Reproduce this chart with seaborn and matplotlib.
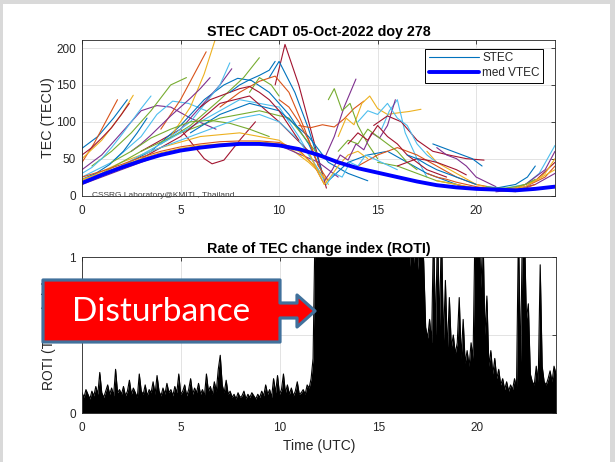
import numpy as np
import pandas as pd
import matplotlib
matplotlib.use("Agg")
import matplotlib.pyplot as plt
import seaborn as sns
from matplotlib.patches import Polygon, Rectangle
from matplotlib.lines import Line2D

# ---------------- data ----------------
VTEC_HOURS = [0, 1, 2, 3, 4, 5, 6, 7, 8, 9, 10, 11, 12, 13, 14, 15, 16, 17, 18, 19, 20, 21, 22, 23, 24]
VTEC_VALUES = [17, 28, 38, 47, 55, 61, 65, 68, 70, 70, 68, 63, 55, 45, 37, 31, 25, 19, 14, 11, 9, 8, 7, 9, 12]

STEC_ARCS = [
    ([0, 0.8, 1.6, 2.3], [64, 80, 105, 130]),
    ([0, 0.6, 1.2, 1.8], [45, 70, 100, 130]),
    ([0, 1, 2, 2.6], [50, 75, 110, 136]),
    ([0, 1, 2, 3, 3.8, 4.5, 5.5, 6.8], [35, 55, 85, 115, 122, 120, 105, 90]),
    ([0.5, 1.5, 2.5, 3.5, 4.5, 5.3], [40, 60, 85, 115, 150, 160]),
    ([0, 1.5, 3, 3.8, 4.6, 5.4, 6.3], [25, 45, 80, 110, 128, 125, 115]),
    ([3, 4, 5, 5.6, 6.2, 6.6, 7.2, 8, 8.8], [60, 75, 90, 70, 50, 43, 48, 75, 100]),
    ([2, 3.5, 5, 6.2, 7.2, 7.9, 8.6, 9.5, 10.5, 11.5, 12.2], [40, 60, 95, 130, 150, 159, 156, 140, 110, 70, 30]),
    ([4, 5, 5.8, 6.3], [90, 130, 170, 195]),
    ([4.5, 5.5, 6.2, 6.8], [80, 120, 165, 215]),
    ([5, 6, 7, 7.6], [90, 120, 150, 172]),
    ([4, 5.5, 7, 8.2, 9], [70, 95, 130, 160, 187]),
    ([4, 5.5, 7, 7.5], [70, 100, 150, 180]),
    ([9.8, 10.3, 11, 11.6, 12.1, 12.4], [150, 205, 150, 90, 40, 10]),
    ([9.5, 10, 10.8, 11.5, 12.2], [160, 182, 140, 90, 30]),
    ([7, 8, 9, 9.8, 10.5, 11.3, 12], [120, 140, 155, 162, 140, 90, 40]),
    ([0, 2, 4, 6, 8, 10, 11.5, 12.5], [20, 45, 65, 80, 85, 75, 45, 20]),
    ([0, 2, 4, 6, 8, 10, 12, 13], [15, 35, 55, 65, 70, 68, 45, 25]),
    ([1, 3, 5, 7, 9, 10.5, 12], [30, 60, 85, 105, 115, 105, 55]),
    ([2, 4, 6, 8, 10, 11, 12.3], [40, 70, 100, 130, 120, 80, 20]),
    ([3, 5, 7, 8.5, 10, 11.5], [50, 80, 125, 135, 100, 60]),
    ([5.5, 7, 8.5, 10, 11.5, 12.5, 13.5, 14.5], [85, 110, 125, 115, 80, 45, 30, 20]),
    ([11, 11.6, 12.2, 12.8, 13.3, 13.8, 14.3], [95, 92, 96, 93, 104, 118, 128]),
    ([13, 13.4, 13.8, 14.2, 14.6, 15, 15.5, 16, 16.6, 17.2], [80, 105, 96, 125, 135, 118, 110, 112, 114, 117]),
    ([12.3, 12.8, 13.3, 13.9], [50, 80, 120, 158]),
    ([12.5, 12.8, 13.2, 13.6, 14, 14.5, 15], [130, 145, 115, 125, 95, 70, 50]),
    ([15.2, 15.6, 16, 16.4, 17, 17.5], [90, 115, 130, 85, 50, 25]),
    ([14.8, 15.5, 16.2, 17, 17.8, 18.6, 19.5, 20.4], [95, 108, 100, 75, 60, 55, 50, 48]),
    ([12.5, 13.5, 14.5, 15.5, 16.5, 17.5, 18.5, 19.5], [20, 45, 55, 60, 45, 30, 20, 10]),
    ([14, 15, 16, 17, 18, 19, 20, 21, 22], [40, 55, 65, 55, 40, 25, 15, 10, 8]),
    ([17.5, 18, 19, 20, 21, 22], [60, 45, 30, 15, 8, 5]),
    ([18, 18.5, 19, 19.5, 20, 21], [65, 55, 50, 40, 25, 12]),
    ([15, 16, 17, 18, 19, 20], [45, 40, 30, 20, 15, 8]),
    ([20.5, 21.5, 22.5, 23.2, 24], [12, 10, 15, 30, 68]),
    ([21, 22, 23, 24], [8, 10, 20, 45]),
    ([20, 21, 22, 22.6, 23], [10, 10, 15, 25, 40]),
    ([21.5, 22.5, 23.5, 24], [8, 12, 25, 40]),
    ([22, 23, 24], [10, 20, 35]),
    ([21, 22, 23, 24], [5, 8, 15, 30]),
    ([8.5, 9, 9.6, 10], [140, 160, 150, 135]),
    ([0, 0.5, 1, 1.5, 2, 2.5, 3, 3.5], [30, 38, 50, 65, 82, 100, 118, 135]),
    ([0, 0.5, 1, 1.5, 2, 2.4], [55, 65, 78, 92, 110, 125]),
    ([0, 0.7, 1.4, 2.1, 2.8, 3.3], [22, 30, 42, 60, 85, 105]),
    ([0, 1, 2, 3, 4, 5, 6, 7, 8, 9, 10, 11, 11.8, 12.3], [25, 33, 42, 52, 60, 66, 70, 73, 74, 74, 72, 62, 40, 15]),
    ([0, 1, 2, 3, 4, 5, 6, 7, 8, 9, 10, 11, 12, 12.5], [22, 30, 40, 50, 58, 64, 68, 70, 72, 73, 70, 60, 35, 15]),
    ([2.5, 3, 3.5, 4, 4.5, 5, 5.5, 6, 6.5], [60, 70, 82, 95, 108, 120, 132, 145, 160]),
    ([1.5, 2.5, 3.5, 4.5, 5.5, 6.5, 7.5, 8.5, 9.5], [45, 60, 78, 90, 100, 102, 98, 90, 80]),
    ([3, 4, 5, 6, 7, 8, 9, 10, 11, 12], [55, 65, 75, 85, 95, 105, 110, 100, 75, 35]),
    ([6, 6.5, 7, 7.5, 8, 8.5, 9, 9.5, 10, 10.5, 11], [120, 130, 135, 140, 145, 148, 140, 130, 115, 95, 75]),
    ([7.5, 8, 8.5, 9, 9.5, 9.8], [140, 150, 157, 163, 170, 182]),
    ([10, 10.5, 11, 11.5, 12, 12.5], [130, 120, 100, 75, 40, 20]),
    ([11.5, 12, 12.3, 12.6, 13, 13.5, 14, 14.5], [60, 30, 15, 25, 40, 55, 60, 50]),
    ([12.3, 12.7, 13.1, 13.5, 13.9, 14.3, 14.7, 15.1, 15.5, 15.9], [20, 35, 55, 48, 70, 62, 85, 78, 95, 130]),
    ([13, 13.5, 14, 14.5, 15, 15.5, 16, 16.5, 17], [60, 75, 70, 90, 80, 70, 60, 45, 35]),
    ([14, 14.5, 15, 15.5, 16, 16.5, 17, 17.5, 18], [100, 115, 110, 125, 105, 95, 70, 55, 45]),
    ([16, 16.5, 17, 17.5, 18, 18.5, 19, 19.5], [40, 45, 50, 48, 45, 40, 35, 28]),
    ([17.8, 18.3, 18.8, 19.3, 19.8, 20.3], [70, 65, 60, 55, 50, 40]),
    ([19, 19.5, 20, 20.5, 21, 21.5, 22, 22.5, 23], [15, 12, 10, 8, 7, 6, 7, 10, 15]),
    ([18, 19, 20, 21, 22, 22.5, 23, 23.5, 24], [20, 15, 10, 8, 9, 12, 20, 30, 50]),
    ([22.5, 23, 23.5, 24], [15, 25, 35, 60]),
    ([20.5, 21, 21.5, 22, 22.5, 23], [12, 10, 10, 12, 15, 22]),
    ([12.4, 12.8, 13.2, 13.6, 14, 14.4, 14.8, 15.2, 15.6, 16], [15, 30, 25, 45, 40, 55, 50, 45, 40, 35]),
    ([13.5, 14, 14.5, 15, 15.5, 16, 16.5, 17, 17.5, 18.5], [70, 85, 75, 95, 80, 70, 55, 45, 35, 25]),
    ([16.5, 17, 17.5, 18, 18.5, 19, 19.5, 20], [55, 50, 42, 35, 30, 25, 20, 15]),
    ([17.5, 18, 18.5, 19, 19.5, 20, 20.5, 21], [30, 25, 22, 18, 15, 12, 10, 8]),
]

ROTI_STEP = 0.1
ROTI_VALUES = [
    0.13, 0.10, 0.15, 0.12, 0.09, 0.14, 0.11, 0.17, 0.12, 0.26, 0.13,
    0.10, 0.14, 0.18, 0.12, 0.16, 0.11, 0.28, 0.13, 0.15, 0.12,
    0.17, 0.11, 0.14, 0.21, 0.12, 0.16, 0.13, 0.10, 0.25, 0.14,
    0.12, 0.18, 0.11, 0.15, 0.13, 0.20, 0.12, 0.24, 0.14, 0.11,
    0.16, 0.12, 0.19, 0.13, 0.15, 0.11, 0.17, 0.13, 0.25, 0.12,
    0.14, 0.18, 0.11, 0.15, 0.22, 0.12, 0.16, 0.13, 0.19, 0.12,
    0.15, 0.11, 0.25, 0.14, 0.17, 0.12, 0.20, 0.14, 0.28, 0.37,
    0.18, 0.13, 0.21, 0.12, 0.14, 0.10, 0.12, 0.09, 0.13, 0.10,
    0.11, 0.14, 0.09, 0.12, 0.10, 0.13, 0.11, 0.09, 0.12, 0.10,
    0.14, 0.11, 0.18, 0.12, 0.15, 0.10, 0.22, 0.13, 0.24, 0.12,
    0.15, 0.25, 0.13, 0.18, 0.12, 0.16, 0.11, 0.14, 0.20, 0.12,
    0.13, 0.15, 0.12, 0.18, 0.16, 0.22, 0.35, 1.20, 1.20, 1.20,
    1.20, 1.20, 1.20, 1.20, 1.20, 1.20, 1.20, 1.20, 1.20, 1.20,
    1.20, 1.20, 1.20, 1.20, 1.20, 1.20, 1.20, 1.20, 1.20, 1.20,
    1.20, 1.20, 1.20, 1.20, 1.20, 1.20, 1.20, 1.20, 1.20, 1.20,
    1.20, 1.20, 1.20, 1.20, 1.20, 1.20, 1.20, 1.20, 1.20, 1.20,
    1.20, 1.20, 1.20, 1.20, 1.20, 0.94, 1.20, 0.96, 1.20, 0.92,
    1.20, 1.20, 0.97, 0.55, 0.48, 0.60, 0.45, 1.20, 0.50, 1.20,
    0.55, 1.20, 0.45, 0.85, 0.40, 0.74, 0.42, 0.50, 0.38, 0.45,
    0.74, 0.35, 0.60, 0.32, 0.40, 0.30, 0.45, 0.35, 1.20, 1.20,
    1.20, 0.80, 1.20, 0.50, 0.75, 0.30, 0.40, 0.25, 0.35, 0.22,
    0.28, 0.18, 0.22, 0.15, 0.20, 0.14, 0.18, 0.15, 0.22, 0.16,
    1.20, 0.30, 1.20, 1.20, 0.60, 0.70, 0.25, 0.20, 0.18, 0.30,
    0.20, 0.95, 0.30, 0.20, 0.18, 0.22, 0.27, 0.20, 0.30, 0.25,
]
ROTI_HOURS = np.round(np.arange(len(ROTI_VALUES)) * ROTI_STEP, 2)

TOP_TITLE = "STEC CADT 05-Oct-2022 doy 278"
BOTTOM_TITLE = "Rate of TEC change index (ROTI)"
X_TICKS = [0, 5, 10, 15, 20]
TEC_TICKS = [0, 50, 100, 150, 200]
ROTI_TICKS = [0, 0.5, 1]

MATLAB_COLORS = ["#0072BD", "#D95319", "#EDB120", "#7E2F8E", "#77AC30", "#4DBEEE", "#A2142F"]

# ---------------- figure ----------------
sns.set_theme(style="white")
plt.rcParams["font.family"] = ["Liberation Sans", "DejaVu Sans"]

W, H = 615, 462
fig = plt.figure(figsize=(W / 100, H / 100), dpi=100, facecolor="#d9d9d9")


def fx(px):
    return px / W


def fy(py):
    return 1 - py / H


fig.patches.append(Rectangle((fx(3), 0), fx(610) - fx(3), fy(4), transform=fig.transFigure,
                             facecolor="white", edgecolor="none", zorder=-10))

ax1 = fig.add_axes([fx(82), fy(195.5), fx(555) - fx(82), fy(40) - fy(195.5)])
ax2 = fig.add_axes([fx(82), fy(413), fx(556) - fx(82), fy(257) - fy(413)])

AX_COL = "#262626"
for ax in (ax1, ax2):
    ax.set_facecolor("white")
    for s in ax.spines.values():
        s.set_color(AX_COL)
        s.set_linewidth(0.6)
        s.set_visible(True)
    ax.tick_params(direction="in", length=3, width=0.6, colors=AX_COL, labelsize=8.5,
                   top=True, right=True)
    ax.tick_params(axis="x", pad=6.5)
    ax.tick_params(axis="y", pad=4.5)
    ax.grid(True, color="#dedede", linewidth=0.6)
    ax.set_axisbelow(True)

# top panel
rows = []
for i, (hrs, vals) in enumerate(STEC_ARCS):
    for h, v in zip(hrs, vals):
        rows.append({"arc": i, "hour": h, "tec": v})
df = pd.DataFrame(rows)
pal = {i: MATLAB_COLORS[i % len(MATLAB_COLORS)] for i in range(len(STEC_ARCS))}
sns.lineplot(data=df, x="hour", y="tec", hue="arc", palette=pal, legend=False, ax=ax1,
             linewidth=0.8, sort=False, estimator=None)
sns.lineplot(x=VTEC_HOURS, y=VTEC_VALUES, color="#0000FF", linewidth=2.8, ax=ax1)

ax1.set_xlim(0, 24)
ax1.set_ylim(0, 211)
ax1.set_xticks(X_TICKS)
ax1.set_yticks(TEC_TICKS)
ax1.set_xlabel("")
ax1.set_ylabel("TEC (TECU)", fontsize=10.3, color=AX_COL, labelpad=0.5)
ax1.set_title(TOP_TITLE, fontsize=10.3, fontweight="bold", color="black", pad=3)
ax1.text(0.5, 0, "CSSRG Laboratory@KMITL, Thailand.", fontsize=6, color="#404040",
         va="center", ha="left", zorder=5)

handles = [Line2D([], [], color="#0072BD", linewidth=0.8),
           Line2D([], [], color="#0000FF", linewidth=2.8)]
leg = ax1.legend(handles, ["STEC", "med VTEC"], loc="upper right", bbox_to_anchor=(0.975, 0.945),
                 fontsize=8.5, frameon=True, fancybox=False, framealpha=1, edgecolor="black",
                 handlelength=4.2, borderpad=0.3, labelspacing=0.25, handletextpad=0.3,
                 borderaxespad=0)
leg.get_frame().set_linewidth(0.7)

# bottom panel
ax2.fill_between(ROTI_HOURS, 0, ROTI_VALUES, color="black", linewidth=0)
sns.lineplot(x=ROTI_HOURS, y=ROTI_VALUES, color="black", linewidth=0.8, ax=ax2)
ax2.set_xlim(0, 24)
ax2.set_ylim(0, 1)
ax2.set_xticks(X_TICKS)
ax2.set_yticks(ROTI_TICKS)
ax2.set_yticklabels(["0", "0.5", "1"])
ax2.set_xlabel("Time (UTC)", fontsize=10, color=AX_COL, labelpad=3.5)
ax2.set_ylabel("ROTI (TECU/min)", fontsize=10, color=AX_COL, labelpad=2.5)
ax2.set_title(BOTTOM_TITLE, fontsize=10.3, fontweight="bold", color="black", pad=3)

# disturbance callout
pts = [(43, 280), (280, 280), (280, 303), (297, 303), (297, 295), (315, 311),
       (297, 327), (297, 318), (280, 318), (280, 342), (43, 342)]
poly = Polygon([(fx(x), fy(y)) for x, y in pts], closed=True, transform=fig.transFigure,
               facecolor="#FF0000", edgecolor="#41719C", linewidth=2.3, joinstyle="round",
               zorder=20)
fig.patches.append(poly)
fig.text(fx(161), fy(312), "Disturbance", fontsize=24, color="white", family=["Lato", "DejaVu Sans"],
         ha="center", va="center", zorder=21)

fig.savefig("out.png", dpi=100, facecolor=fig.get_facecolor())
